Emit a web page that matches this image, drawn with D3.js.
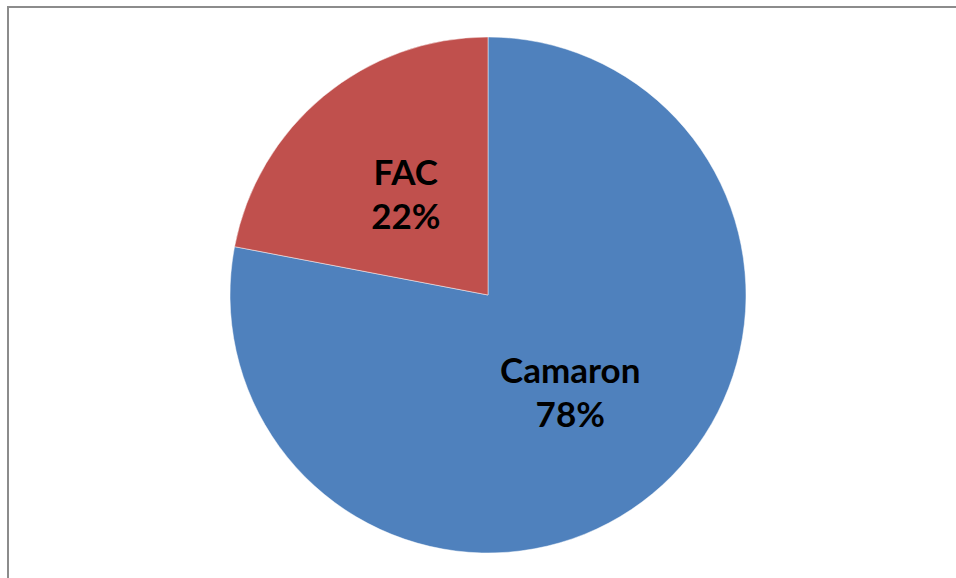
<!DOCTYPE html>
<html>
<head>
<meta charset="utf-8">
<script src="https://cdn.jsdelivr.net/npm/d3@7"></script>
<style>
  html, body { margin: 0; padding: 0; background: #fff; }
  svg { display: block; }
</style>
</head>
<body>
<svg id="chart" width="956" height="578"></svg>
<script>
const categories = ["Camaron", "FAC"];
const values = [78, 22];
const colors = ["#4F81BD", "#C0504D"];

const svg = d3.select("#chart");
const W = 956, H = 578;

// chart area frame (open on the right and bottom edges)
svg.append("path")
  .attr("d", `M8,${H + 2} L8,7 L${W + 2},7`)
  .attr("fill", "none")
  .attr("stroke", "#8c8c8c")
  .attr("stroke-width", 2);

const cx = 488, cy = 295, r = 258;
const g = svg.append("g").attr("transform", `translate(${cx},${cy})`);

const pie = d3.pie().sort(null).value(d => d.value);
const arcs = pie(categories.map((c, i) => ({ name: c, value: values[i], color: colors[i] })));
const arc = d3.arc().innerRadius(0).outerRadius(r);

g.selectAll("path.slice")
  .data(arcs)
  .join("path")
  .attr("class", "slice")
  .attr("d", arc)
  .attr("fill", d => d.data.color)
  .attr("stroke", "#ffffff")
  .attr("stroke-opacity", 0.6)
  .attr("stroke-width", 0.8);

// data labels: name on first line, percentage on second, centred at half radius
const total = d3.sum(values);
const labelArc = d3.arc().innerRadius(r * 0.5).outerRadius(r * 0.5);

const labels = g.selectAll("text.lbl")
  .data(arcs)
  .join("text")
  .attr("class", "lbl")
  .attr("text-anchor", "middle")
  .attr("font-family", "Lato, 'Open Sans', sans-serif")
  .attr("font-weight", "bold")
  .attr("font-size", 35)
  .attr("fill", "#000");

labels.each(function(d) {
  const [x, y] = labelArc.centroid(d);
  const t = d3.select(this);
  t.append("tspan").attr("x", x).attr("y", y - 11).text(d.data.name);
  t.append("tspan").attr("x", x).attr("y", y + 33)
    .text(Math.round(d.data.value / total * 100) + "%");
});
</script>
</body>
</html>
